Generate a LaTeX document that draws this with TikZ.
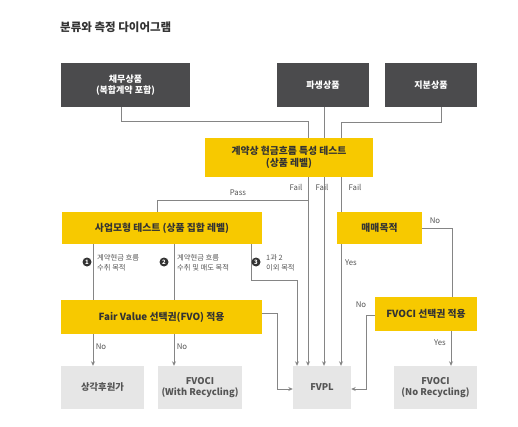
\documentclass[tikz,border=0pt]{standalone}
\usepackage{fontspec}
\setmainfont{Noto Sans CJK KR}
\usetikzlibrary{arrows.meta}
\pgfdeclarelayer{bg}
\pgfsetlayers{bg,main}
\definecolor{eyyellow}{HTML}{F7C900}
\definecolor{eydark}{HTML}{4B4B4D}
\definecolor{eylight}{HTML}{E6E6E6}
\definecolor{eyline}{HTML}{858585}
\definecolor{eytext}{HTML}{333333}
\definecolor{eygreytext}{HTML}{555555}
\tikzset{
  darkbox/.style={fill=eydark, text=white, font=\fontsize{9}{11.5}\selectfont\bfseries, align=center, inner sep=0pt},
  yelbox/.style={fill=eyyellow, text=eytext, font=\fontsize{9.8}{12}\selectfont\bfseries, align=center, inner sep=0pt},
  greybox/.style={fill=eylight, text=eygreytext, font=\fontsize{9.3}{11.5}\selectfont\bfseries, align=center, inner sep=0pt},
  conn/.style={draw=eyline, line width=0.9pt},
  arr/.style={conn, -{Stealth[length=4.5pt,width=4pt]}},
  lbl/.style={text=eygreytext, font=\fontsize{7.8}{9}\selectfont, inner sep=0pt},
  steptext/.style={text=eygreytext, font=\fontsize{7.3}{9.5}\selectfont, align=left, anchor=west, inner sep=0pt},
  numdot/.style={circle, fill=eytext, text=white, font=\fontsize{6}{6}\selectfont\bfseries, inner sep=0pt, minimum size=9pt}
}
\begin{document}
\begin{tikzpicture}[x=1pt,y=-1pt]
\useasboundingbox (0,0) rectangle (518,427);
\node[anchor=west, text=eytext, font=\fontsize{11.5}{13}\selectfont\bfseries, inner sep=0pt] (title) at (60,27) {분류와 측정 다이어그램};

% boxes
\node[darkbox, minimum width=129pt, minimum height=44pt] (debt) at (125.5,85) {채무상품\\(복합계약 포함)};
\node[darkbox, minimum width=92pt, minimum height=44pt] (deriv) at (323,85) {파생상품};
\node[darkbox, minimum width=92pt, minimum height=44pt] (equity) at (431,85) {지분상품};
\node[yelbox, minimum width=168pt, minimum height=39pt] (cft) at (289,157.5) {계약상 현금흐름 특성 테스트\\(상품 레벨)};
\node[yelbox, minimum width=200pt, minimum height=32pt] (bm) at (162,228) {사업모형 테스트 (상품 집합 레벨)};
\node[yelbox, minimum width=85pt, minimum height=32pt] (hft) at (379.5,228) {매매목적};
\node[yelbox, minimum width=201pt, minimum height=34pt] (fvo) at (161.5,317) {Fair Value 선택권(FVO) 적용};
\node[yelbox, minimum width=102pt, minimum height=34pt] (fvociopt) at (426,314) {FVOCI 선택권 적용};
\node[greybox, minimum width=83pt, minimum height=43pt] (amort) at (102.5,387.5) {상각후원가};
\node[greybox, minimum width=84pt, minimum height=43pt] (fvocir) at (200,387.5) {FVOCI\\(With Recycling)};
\node[greybox, minimum width=58pt, minimum height=43pt] (fvpl) at (322,387.5) {FVPL};
\node[greybox, minimum width=83pt, minimum height=43pt] (fvocin) at (435.5,387.5) {FVOCI\\(No Recycling)};

% x guide coordinates
\coordinate (xa) at (308,0);
\coordinate (xb) at (324,0);
\coordinate (xc) at (341,0);
\coordinate (xd) at (297,0);
\coordinate (pass) at (308,200);
\coordinate (bend3) at (251,280);
\coordinate (fvobend) at (277,313);
\coordinate (optbend) at (366,315);

\begin{pgfonlayer}{bg}
% debt -> cft
\draw[conn] ([xshift=-4.5pt]debt.south) |- (121,121) -| (cft.north -| xa);
% deriv -> fvpl
\draw[arr] (deriv.south -| xb) -- (fvpl.north -| xb);
% equity -> hft
\draw[conn] ([xshift=10pt]equity.south) |- (341,122) -- (hft.north -| xc);
% cft fail -> fvpl
\draw[arr] (cft.south -| xa) -- (fvpl.north -| xa);
% pass -> bm
\draw[conn] (pass) -| (bm.north -| 157,0);
% hft yes -> fvpl
\draw[arr] (hft.south -| xc) -- (fvpl.north -| xc);
% hft no -> fvoci option
\draw[conn] (hft.east) -| (fvociopt.north -| 452,0);
% fvoci option no -> fvpl
\draw[arr] (fvociopt.west |- optbend) -- (optbend) |- (fvpl.east |- 0,389);
% fvoci option yes -> fvoci no recycling
\draw[arr] (fvociopt.south -| 451,0) -- (fvocin.north -| 451,0);
% bm -> fvo
\draw[conn] (bm.south -| 93,0) -- (fvo.north -| 93,0);
\draw[conn] (bm.south -| 174,0) -- (fvo.north -| 174,0);
% bm 3 -> fvpl
\draw[arr] (bm.south -| bend3) -- (bend3) -| (fvpl.north -| xd);
% fvo -> results
\draw[arr] (fvo.south -| 93,0) -- (amort.north -| 93,0);
\draw[arr] (fvo.south -| 174,0) -- (fvocir.north -| 174,0);
\draw[arr] (fvo.east |- fvobend) -- (fvobend) |- (fvpl.west |- 0,389);
\end{pgfonlayer}

% labels
\node[lbl] (lpass) at (238,193) {Pass};
\node[lbl] (lf1) at (296,187) {Fail};
\node[lbl] (lf2) at (322,187) {Fail};
\node[lbl] (lf3) at (355,187) {Fail};
\node[lbl] (lno1) at (435,221) {No};
\node[lbl] (lyes1) at (351,263) {Yes};
\node[lbl] (lno2) at (361,305) {No};
\node[lbl] (lyes2) at (440,343) {Yes};
\node[lbl] (lno3) at (101,347) {No};
\node[lbl] (lno4) at (182,347) {No};

\node[numdot] (n1) at (87,262) {1};
\node[numdot] (n2) at (164,262) {2};
\node[numdot] (n3) at (256,262) {3};
\node[steptext] (s1) at (97,263) {계약현금 흐름\\수취 목적};
\node[steptext] (s2) at (177,263) {계약현금 흐름\\수취 및 매도 목적};
\node[steptext] (s3) at (266,263) {1과 2\\이외 목적};
\end{tikzpicture}
\end{document}
